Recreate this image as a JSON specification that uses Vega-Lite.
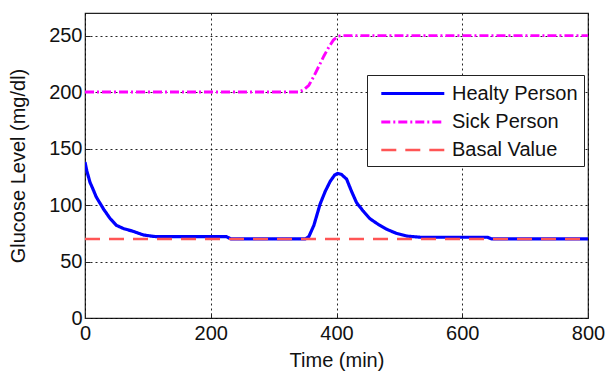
{
  "$schema": "https://vega.github.io/schema/vega-lite/v6.json",
  "width": 503,
  "height": 305,
  "autosize": {"type": "none"},
  "padding": {"left": 85, "top": 13, "right": 20, "bottom": 55},
  "background": "white",
  "config": {
    "font": "Liberation Sans",
    "view": {"stroke": "#222", "strokeWidth": 1.2},
    "axis": {
      "labelFont": "Liberation Sans",
      "labelFontSize": 20,
      "labelColor": "#111",
      "labelFlush": false,
      "labelOverlap": false,
      "titleFont": "Liberation Sans",
      "titleFontSize": 20,
      "titleFontWeight": "normal",
      "titleColor": "#111",
      "domain": false,
      "grid": true,
      "gridColor": "#000",
      "gridDash": [2, 3],
      "gridOpacity": 0.85,
      "gridWidth": 1,
      "tickColor": "#222",
      "tickSize": -5,
      "tickWidth": 1
    },
    "legend": {
      "orient": "none",
      "legendX": 282,
      "legendY": 62,
      "fillColor": "white",
      "strokeColor": "#222",
      "padding": 6,
      "symbolType": "M-0.4,0H5.6",
      "symbolSize": 441,
      "labelOffset": 54,
      "rowPadding": 6,
      "labelFont": "Liberation Sans",
      "labelFontSize": 20,
      "labelColor": "#111"
    }
  },
  "data": {
    "values": [
      {"t": 0, "v": 138, "s": "Healty Person"},
      {"t": 3, "v": 130, "s": "Healty Person"},
      {"t": 8, "v": 120, "s": "Healty Person"},
      {"t": 12, "v": 115, "s": "Healty Person"},
      {"t": 18, "v": 107, "s": "Healty Person"},
      {"t": 24, "v": 101.5, "s": "Healty Person"},
      {"t": 30, "v": 96, "s": "Healty Person"},
      {"t": 40, "v": 88, "s": "Healty Person"},
      {"t": 50, "v": 82, "s": "Healty Person"},
      {"t": 62, "v": 79, "s": "Healty Person"},
      {"t": 75, "v": 77, "s": "Healty Person"},
      {"t": 93, "v": 73.5, "s": "Healty Person"},
      {"t": 105, "v": 72.5, "s": "Healty Person"},
      {"t": 114, "v": 72, "s": "Healty Person"},
      {"t": 150, "v": 72, "s": "Healty Person"},
      {"t": 200, "v": 72, "s": "Healty Person"},
      {"t": 225, "v": 72, "s": "Healty Person"},
      {"t": 232, "v": 70, "s": "Healty Person"},
      {"t": 350, "v": 70, "s": "Healty Person"},
      {"t": 356, "v": 72, "s": "Healty Person"},
      {"t": 364, "v": 82, "s": "Healty Person"},
      {"t": 374, "v": 101, "s": "Healty Person"},
      {"t": 382, "v": 112, "s": "Healty Person"},
      {"t": 390, "v": 121, "s": "Healty Person"},
      {"t": 397, "v": 126.5, "s": "Healty Person"},
      {"t": 402, "v": 128, "s": "Healty Person"},
      {"t": 408, "v": 127, "s": "Healty Person"},
      {"t": 416, "v": 123, "s": "Healty Person"},
      {"t": 424, "v": 112, "s": "Healty Person"},
      {"t": 432, "v": 102, "s": "Healty Person"},
      {"t": 442, "v": 95, "s": "Healty Person"},
      {"t": 453, "v": 88, "s": "Healty Person"},
      {"t": 466, "v": 83, "s": "Healty Person"},
      {"t": 480, "v": 78.5, "s": "Healty Person"},
      {"t": 495, "v": 75, "s": "Healty Person"},
      {"t": 512, "v": 72.5, "s": "Healty Person"},
      {"t": 533, "v": 71.5, "s": "Healty Person"},
      {"t": 600, "v": 71.5, "s": "Healty Person"},
      {"t": 640, "v": 71.5, "s": "Healty Person"},
      {"t": 647, "v": 70, "s": "Healty Person"},
      {"t": 800, "v": 70, "s": "Healty Person"},
      {"t": 0, "v": 200, "s": "Sick Person"},
      {"t": 340, "v": 200, "s": "Sick Person"},
      {"t": 348, "v": 202, "s": "Sick Person"},
      {"t": 356, "v": 206, "s": "Sick Person"},
      {"t": 364, "v": 214, "s": "Sick Person"},
      {"t": 372, "v": 223, "s": "Sick Person"},
      {"t": 380, "v": 232, "s": "Sick Person"},
      {"t": 388, "v": 240, "s": "Sick Person"},
      {"t": 395, "v": 246, "s": "Sick Person"},
      {"t": 403, "v": 249.5, "s": "Sick Person"},
      {"t": 410, "v": 250, "s": "Sick Person"},
      {"t": 800, "v": 250, "s": "Sick Person"},
      {"t": 0, "v": 70, "s": "Basal Value"},
      {"t": 800, "v": 70, "s": "Basal Value"}
    ]
  },
  "mark": {"type": "line", "clip": true},
  "encoding": {
    "x": {
      "field": "t",
      "type": "quantitative",
      "scale": {"domain": [0, 800], "nice": false},
      "axis": {"values": [0, 200, 400, 600, 800], "title": "Time (min)", "labelPadding": 10, "titlePadding": 7}
    },
    "y": {
      "field": "v",
      "type": "quantitative",
      "scale": {"domain": [0, 270], "nice": false},
      "axis": {"values": [0, 50, 100, 150, 200, 250], "title": "Glucose Level (mg/dl)", "labelPadding": 8, "titlePadding": 20}
    },
    "color": {
      "field": "s",
      "type": "nominal",
      "scale": {"domain": ["Healty Person", "Sick Person", "Basal Value"], "range": ["#0000ff", "#ff00ff", "#ff5555"]},
      "legend": {"title": null}
    },
    "strokeDash": {
      "field": "s",
      "type": "nominal",
      "scale": {"domain": ["Healty Person", "Sick Person", "Basal Value"], "range": [[1, 0], [9, 3, 2, 3], [15, 9]]},
      "legend": {"title": null}
    },
    "strokeWidth": {
      "field": "s",
      "type": "nominal",
      "scale": {"domain": ["Healty Person", "Sick Person", "Basal Value"], "range": [3.2, 2.6, 1.8]},
      "legend": {"title": null}
    }
  }
}
